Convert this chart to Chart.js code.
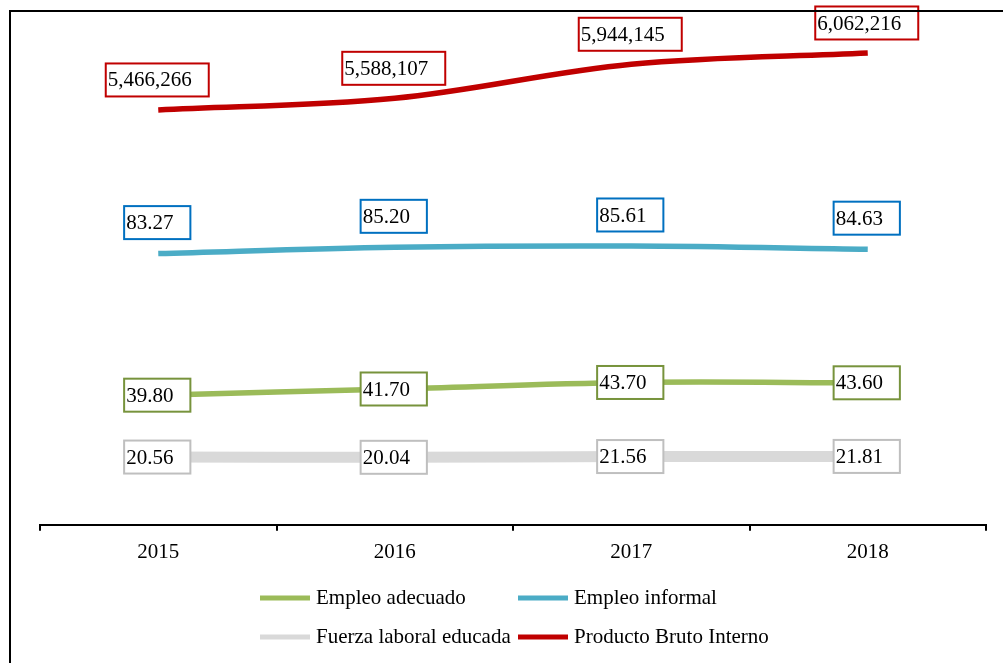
<!doctype html>
<html>
<head>
<title>Empleo y Producto Bruto Interno</title>
<script src="https://cdn.jsdelivr.net/npm/chart.js@4.4.0/dist/chart.umd.min.js"></script>
<style>
body{margin:0;background:#fff;}
</style>
</head>
<body>
<canvas id="canvas" width="1003" height="663"></canvas>
<script>
const years = ['2015', '2016', '2017', '2018'];
const empleoAdecuado = [39.80, 41.70, 43.70, 43.60];
const empleoInformal = [83.27, 85.20, 85.61, 84.63];
const fuerzaEducada = [20.56, 20.04, 21.56, 21.81];
const pbi = [5466266, 5588107, 5944145, 6062216];

const serif = '"Liberation Serif", "Times New Roman", serif';
const pct = v => v.toFixed(2);
const miles = v => v.toLocaleString('en-US');

// boxed value labels, Excel style
const labelBoxes = {
	id: 'labelBoxes',
	afterDatasetsDraw(chart) {
		const ctx = chart.ctx;
		ctx.save();
		ctx.font = '21px ' + serif;
		ctx.textBaseline = 'middle';
		chart.data.datasets.forEach((ds, i) => {
			const meta = chart.getDatasetMeta(i);
			meta.data.forEach((pt, j) => {
				const txt = ds.fmt(ds.data[j]);
				const w = ctx.measureText(txt).width + 19;
				const h = 33;
				const left = pt.x - 1 - w / 2;
				const top = pt.y - ds.lift - h / 2;
				ctx.fillStyle = '#fff';
				ctx.fillRect(left, top, w, h);
				ctx.strokeStyle = ds.boxColor;
				ctx.lineWidth = 2;
				ctx.strokeRect(left, top, w, h);
				ctx.fillStyle = '#000';
				ctx.fillText(txt, left + 2, top + h / 2 + 1);
			});
		});
		ctx.restore();
	},
	afterDraw(chart) {
		const ctx = chart.ctx;
		ctx.save();
		// outer frame
		ctx.strokeStyle = '#000';
		ctx.lineWidth = 2;
		ctx.strokeRect(10, 11, 1100, 800);
		// legend, two rows
		const spots = [[260, 598], [518, 598], [260, 637], [518, 637]];
		ctx.font = '21px ' + serif;
		ctx.textBaseline = 'middle';
		chart.data.datasets.forEach((ds, i) => {
			const [x, y] = spots[i];
			ctx.fillStyle = ds.borderColor;
			ctx.fillRect(x, y - 2.5, 50, 5);
			ctx.fillStyle = '#000';
			ctx.fillText(ds.label, x + 56, y);
		});
		ctx.restore();
	}
};

const ctx = document.getElementById('canvas');
new Chart(ctx, {
	type: 'line',
	data: {
		labels: years,
		datasets: [
			{
				label: 'Empleo adecuado',
				data: empleoAdecuado,
				borderColor: '#9BBB59',
				borderWidth: 5.5,
				yAxisID: 'y',
				boxColor: '#77933C',
				lift: 0,
				fmt: pct
			},
			{
				label: 'Empleo informal',
				data: empleoInformal,
				borderColor: '#4BACC6',
				borderWidth: 5.5,
				yAxisID: 'y',
				boxColor: '#0070C0',
				lift: 31,
				fmt: pct
			},
			{
				label: 'Fuerza laboral educada',
				data: fuerzaEducada,
				borderColor: '#D9D9D9',
				borderWidth: 11,
				yAxisID: 'yGray',
				boxColor: '#BFBFBF',
				lift: 0,
				fmt: pct
			},
			{
				label: 'Producto Bruto Interno',
				data: pbi,
				borderColor: '#C00000',
				borderWidth: 5.5,
				yAxisID: 'yPbi',
				boxColor: '#C00000',
				lift: 30,
				fmt: miles
			}
		]
	},
	options: {
		responsive: false,
		animation: false,
		events: [],
		layout: { padding: { left: 40, right: 17, top: 20, bottom: 89 } },
		elements: {
			point: { radius: 0 },
			line: { tension: 0.35, fill: false, borderCapStyle: 'butt' }
		},
		plugins: {
			legend: { display: false },
			tooltip: { enabled: false }
		},
		scales: {
			x: {
				offset: true,
				grid: { offset: true, drawOnChartArea: false, tickLength: 6, color: '#000', lineWidth: 2 },
				border: { color: '#000', width: 2 },
				ticks: { color: '#000', padding: 9, font: { family: serif, size: 21 } }
			},
			y: { display: false, min: 0, max: 155 },
			yGray: { display: false, min: -115, max: 895 },
			yPbi: { display: false, min: 1127441, max: 6407216 }
		}
	},
	plugins: [labelBoxes]
});
</script>
</body>
</html>
